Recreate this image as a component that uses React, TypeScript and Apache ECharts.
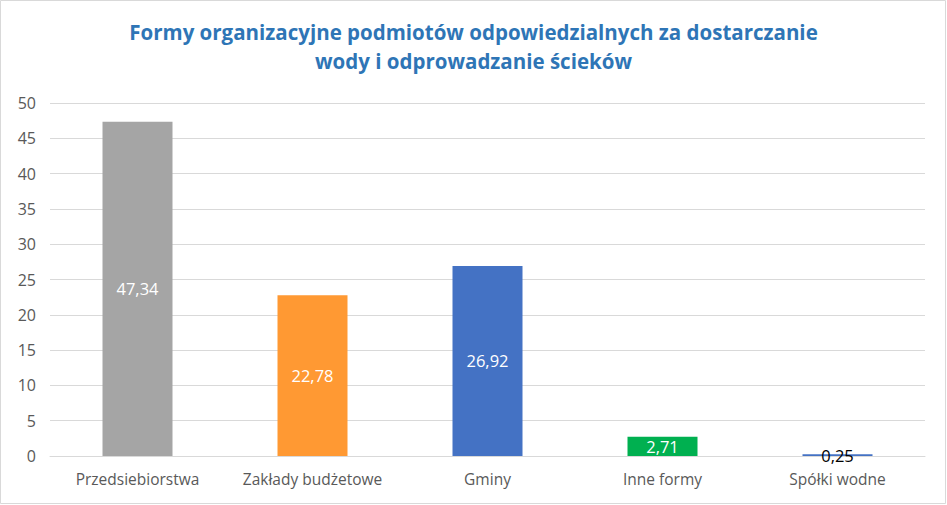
import React, { useEffect, useRef } from "react";
import * as echarts from "echarts";

const categories = ["Przedsiebiorstwa", "Zakłady budżetowe", "Gminy", "Inne formy", "Spółki wodne"];
const values = [47.34, 22.78, 26.92, 2.71, 0.25];
const barColors = ["#A5A5A5", "#FF9933", "#4472C4", "#00B050", "#4472C4"];
const labelColors = ["#FFFFFF", "#FFFFFF", "#FFFFFF", "#FFFFFF", "#000000"];
const titleLines = ["Formy organizacyjne podmiotów odpowiedzialnych za dostarczanie", "wody i odprowadzanie ścieków"];

const FONT = "Open Sans";

export default function App() {
  const ref = useRef<HTMLDivElement>(null);
  useEffect(() => {
    document.body.style.margin = "0";
    const chart = echarts.init(ref.current!, undefined, { renderer: "svg" });
    chart.setOption({
      animation: false,
      backgroundColor: "#FFFFFF",
      title: {
        text: titleLines.join("\n"),
        left: "center",
        top: 12,
        textStyle: {
          color: "#2E75B6",
          fontFamily: FONT,
          fontWeight: "bold",
          fontSize: 20.5,
          lineHeight: 29,
        },
      },
      graphic: [
        {
          type: "rect",
          shape: { x: 0.5, y: 0.5, width: 945, height: 503 },
          style: { fill: "none", stroke: "#D9D9D9", lineWidth: 1 },
          silent: true,
        },
      ],
      grid: { left: 50, right: 22, top: 103, bottom: 49, containLabel: false },
      xAxis: {
        type: "category",
        data: categories,
        axisLine: { lineStyle: { color: "#D9D9D9" } },
        axisTick: { show: false },
        axisLabel: { color: "#595959", fontFamily: FONT, fontSize: 15.5, margin: 15, interval: 0, hideOverlap: false },
      },
      yAxis: {
        type: "value",
        min: 0,
        max: 50,
        interval: 5,
        axisLine: { show: false },
        axisTick: { show: false },
        splitLine: { lineStyle: { color: "#D9D9D9" } },
        axisLabel: { color: "#595959", fontFamily: FONT, fontSize: 16, margin: 14 },
      },
      series: [
        {
          type: "bar",
          barWidth: "40%",
          data: values.map((v, i) => ({
            value: v,
            itemStyle: { color: barColors[i] },
            label: { color: labelColors[i] },
          })),
          label: {
            show: true,
            position: "inside",
            fontFamily: FONT,
            fontSize: 16.5,
            formatter: (p: any) => p.value.toFixed(2).replace(".", ","),
          },
        },
      ],
    });
    return () => chart.dispose();
  }, []);
  return <div ref={ref} style={{ width: 947, height: 505 }} />;
}
